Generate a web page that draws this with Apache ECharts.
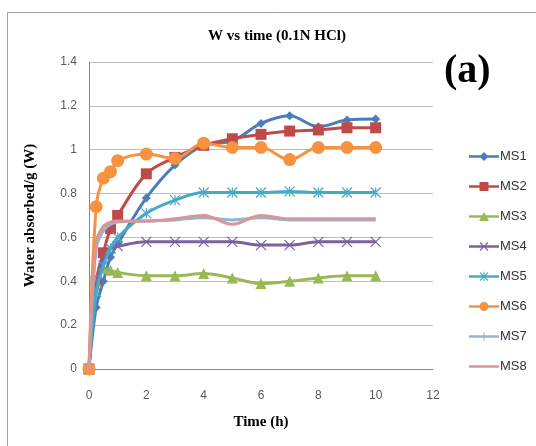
<!DOCTYPE html>
<html><head><meta charset="utf-8">
<script src="https://cdn.jsdelivr.net/npm/echarts@6/dist/echarts.min.js"></script>
<style>html,body{margin:0;padding:0;background:#fff}#c{width:536px;height:446px}</style>
</head><body><div id="c"></div>
<script>
var times = [0, 0.25, 0.5, 0.75, 1, 2, 3, 4, 5, 6, 7, 8, 9, 10];
var MS1 = [0, 0.28, 0.40, 0.51, 0.57, 0.78, 0.93, 1.02, 1.04, 1.12, 1.155, 1.105, 1.135, 1.14];
var MS2 = [0, 0.40, 0.53, 0.64, 0.70, 0.89, 0.965, 1.02, 1.05, 1.07, 1.085, 1.09, 1.10, 1.10];
var MS3 = [0, 0.40, 0.46, 0.45, 0.44, 0.425, 0.425, 0.435, 0.415, 0.39, 0.40, 0.415, 0.425, 0.425];
var MS4 = [0, 0.38, 0.50, 0.55, 0.56, 0.58, 0.58, 0.58, 0.58, 0.565, 0.565, 0.58, 0.58, 0.58];
var MS5 = [0, 0.35, 0.47, 0.55, 0.60, 0.71, 0.77, 0.805, 0.805, 0.805, 0.81, 0.805, 0.805, 0.805];
var MS6 = [0, 0.74, 0.87, 0.90, 0.95, 0.98, 0.96, 1.03, 1.01, 1.01, 0.955, 1.01, 1.01, 1.01];
var MS7 = [0, 0.55, 0.63, 0.66, 0.67, 0.675, 0.68, 0.69, 0.68, 0.69, 0.68, 0.68, 0.68, 0.68];
var MS8 = [0, 0.58, 0.65, 0.67, 0.675, 0.675, 0.685, 0.70, 0.66, 0.70, 0.685, 0.685, 0.685, 0.685];
var seriesNames = ['MS1','MS2','MS3','MS4','MS5','MS6','MS7','MS8'];
var seriesData = [MS1, MS2, MS3, MS4, MS5, MS6, MS7, MS8];
var xTicks = [0, 2, 4, 6, 8, 10, 12];
var yTicks = [0, 0.2, 0.4, 0.6, 0.8, 1, 1.2, 1.4];

var colors = ['#4A7EBB','#BE4B48','#98B954','#7D60A0','#46AAC5','#F69240','#95B3D7','#D99694'];
var symbols = ['diamond','rect','triangle','path://M0,0L10,10M10,0L0,10','path://M0,0L10,10M10,0L0,10M5,0L5,10','circle','path://M5,0L5,10','none'];
var sizes = [9, 11, 11, 10, 10, 13, 10, 0];

// legend icons: line + marker, drawn in a 30x12 box
var BOX = 'M0,0L0,0ZM30,12L30,12Z';
var LINE = 'M0,4.8L30,4.8L30,7.2L0,7.2Z';
var XMARK = 'M10.6,2.4L11.4,1.6L19.4,9.6L18.6,10.4ZM18.6,1.6L19.4,2.4L11.4,10.4L10.6,9.6Z';
var legendIcons = [
  BOX + LINE + 'M15,1.5L19.5,6L15,10.5L10.5,6Z',
  BOX + LINE + 'M10.5,1.5L19.5,1.5L19.5,10.5L10.5,10.5Z',
  BOX + LINE + 'M15,1.5L20,10.5L10,10.5Z',
  BOX + LINE + XMARK,
  BOX + LINE + XMARK + 'M14.5,1.2L15.5,1.2L15.5,10.8L14.5,10.8Z',
  BOX + LINE + 'M10.5,6A4.5,4.5 0 1 1 19.5,6A4.5,4.5 0 1 1 10.5,6Z',
  BOX + LINE + 'M14.5,1.5L15.5,1.5L15.5,10.5L14.5,10.5Z',
  BOX + LINE
];

var series = seriesNames.map(function(n, i){
  var stroke = symbols[i].indexOf('path://') === 0;
  return {
    name: n, type: 'line', smooth: 0.35,
    data: times.map(function(t, j){ return [t, seriesData[i][j]]; }),
    symbol: symbols[i], symbolSize: sizes[i], showSymbol: symbols[i] !== 'none',
    lineStyle: {color: colors[i], width: 3},
    itemStyle: {color: colors[i], borderColor: colors[i], borderWidth: stroke ? 1.2 : 0},
    z: 2 + i
  };
});

var chart = echarts.init(document.getElementById('c'), null, {renderer: 'canvas'});
chart.setOption({
  animation: false,
  backgroundColor: '#fff',
  color: colors,
  title: {
    text: 'W vs time (0.1N HCl)', left: 272, top: 24, textAlign: 'center',
    textStyle: {fontFamily: 'Liberation Serif', fontWeight: 'bold', fontSize: 15, color: '#000'}
  },
  graphic: [
    {type: 'rect', shape: {x: 7.5, y: 12.5, width: 600, height: 600}, style: {fill: 'none', stroke: '#a6a6a6', lineWidth: 1}, silent: true},
    {type: 'text', left: 444, top: 52, style: {text: '(a)', font: 'bold 40px "Liberation Serif"', fill: '#000'}}
  ],
  legend: {
    orient: 'vertical', left: 464, top: 145, itemGap: 17, itemWidth: 30, itemHeight: 12,
    data: seriesNames.map(function(n, i){ return {name: n, icon: 'path://' + legendIcons[i], itemStyle: {color: colors[i], borderWidth: 0}}; }),
    textStyle: {fontFamily: 'Liberation Sans', fontSize: 13, color: '#333', padding: [0,0,0,-4]}
  },
  grid: {left: 89, right: 103, top: 62, bottom: 77, containLabel: false},
  xAxis: {
    type: 'value', min: 0, max: 12, interval: 2,
    name: 'Time (h)', nameLocation: 'middle', nameGap: 46,
    nameTextStyle: {fontFamily: 'Liberation Serif', fontWeight: 'bold', fontSize: 15, color: '#000'},
    axisLine: {show: true, lineStyle: {color: '#868686'}},
    axisTick: {show: false},
    axisLabel: {fontFamily: 'Liberation Sans', fontSize: 12, color: '#595959', margin: 21,
      formatter: function(v){ return xTicks.indexOf(v) >= 0 ? String(v) : ''; }},
    splitLine: {show: false}
  },
  yAxis: {
    type: 'value', min: 0, max: 1.4, interval: 0.2,
    name: 'Water absorbed/g (W)', nameLocation: 'middle', nameGap: 51,
    nameTextStyle: {fontFamily: 'Liberation Serif', fontWeight: 'bold', fontSize: 15, color: '#000'},
    axisLine: {show: true, lineStyle: {color: '#868686'}},
    axisTick: {show: false},
    axisLabel: {fontFamily: 'Liberation Sans', fontSize: 12, color: '#595959', margin: 12,
      formatter: function(v){ var r = Math.round(v*10)/10; return yTicks.indexOf(r) >= 0 ? String(r) : ''; }},
    splitLine: {show: true, lineStyle: {color: '#c0c0c0', width: 1}}
  },
  series: series
});
</script></body></html>
